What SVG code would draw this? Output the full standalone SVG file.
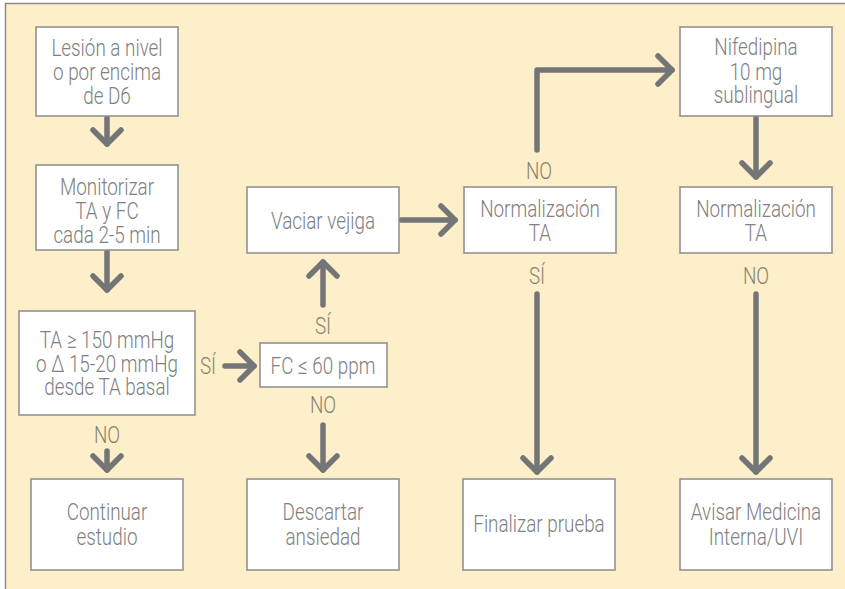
<svg xmlns="http://www.w3.org/2000/svg" width="845" height="589" viewBox="0 0 845 589">
<style>
.box{fill:#ffffff;stroke:#8c8c8c;stroke-width:1.5}
.t,.lbl{font-family:Roboto,"Liberation Sans",Arial,sans-serif;font-weight:300;font-size:23px;text-anchor:middle;transform-box:fill-box;transform-origin:center;transform:scaleX(0.82)}
.t{fill:#808080}
.lbl{fill:#85836f}
.c{fill:none;stroke:#747577;stroke-width:5.5;stroke-linecap:round;stroke-linejoin:round}
</style>
<defs>
<marker id="ah" markerUnits="userSpaceOnUse" viewBox="-20 -20 40 40" markerWidth="40" markerHeight="40" refX="0" refY="0" orient="auto" overflow="visible">
<path d="M-14,-14 L0,0 L-14,14" fill="none" stroke="#747577" stroke-width="5.5" stroke-linecap="round" stroke-linejoin="round"/>
</marker>
</defs>
<rect x="0" y="0" width="845" height="589" fill="#ffffff"/>
<rect x="5" y="3" width="840" height="586" fill="#fdefc9"/>
<path d="M5.5,589 V3.5 H845" fill="none" stroke="#8c8c8c" stroke-width="1.5"/>

<g id="connectors">
<path class="c" d="M107,118 V144" marker-end="url(#ah)"/>
<path class="c" d="M107,252 V290" marker-end="url(#ah)"/>
<path class="c" d="M225,366 H254" marker-end="url(#ah)"/>
<path class="c" d="M323,305 V262" marker-end="url(#ah)"/>
<path class="c" d="M323,425 V470" marker-end="url(#ah)"/>
<path class="c" d="M107,451 V470" marker-end="url(#ah)"/>
<path class="c" d="M401,220 H455" marker-end="url(#ah)"/>
<path class="c" d="M537,150 V70 H672" marker-end="url(#ah)"/>
<path class="c" d="M756,118 V177" marker-end="url(#ah)"/>
<path class="c" d="M537,294 V472" marker-end="url(#ah)"/>
<path class="c" d="M756,294 V472" marker-end="url(#ah)"/>
</g>

<g id="labels">
<text class="lbl" x="208" y="374">SÍ</text>
<text class="lbl" x="323" y="334">SÍ</text>
<text class="lbl" x="323" y="413">NO</text>
<text class="lbl" x="107" y="443">NO</text>
<text class="lbl" x="539" y="179">NO</text>
<text class="lbl" x="537" y="284">SÍ</text>
<text class="lbl" x="756" y="284">NO</text>
</g>

<g id="n1"><rect class="box" x="36" y="27" width="142" height="89"/>
<text class="t" x="107" y="56">Lesión a nivel<tspan x="107" dy="24">o por encima</tspan><tspan x="107" dy="24">de D6</tspan></text></g>
<g id="n2"><rect class="box" x="36" y="165" width="142" height="85"/>
<text class="t" x="107" y="195">Monitorizar<tspan x="107" dy="24">TA y FC</tspan><tspan x="107" dy="24">cada 2-5 min</tspan></text></g>
<g id="n3"><rect class="box" x="19" y="311" width="176" height="104"/>
<text class="t" x="107" y="348">TA ≥ 150 mmHg<tspan x="107" dy="24">o Δ 15-20 mmHg</tspan><tspan x="107" dy="23">desde TA basal</tspan></text></g>
<g id="n4"><rect class="box" x="260" y="343" width="127" height="44"/>
<text class="t" x="323" y="374">FC ≤ 60 ppm</text></g>
<g id="n5"><rect class="box" x="247" y="187" width="152" height="66"/>
<text class="t" x="323" y="229">Vaciar vejiga</text></g>
<g id="n6"><rect class="box" x="464" y="187" width="152" height="66"/>
<text class="t" x="540" y="217">Normalización<tspan x="540" dy="24">TA</tspan></text></g>
<g id="n7"><rect class="box" x="680" y="27" width="152" height="89"/>
<text class="t" x="756" y="55">Nifedipina<tspan x="756" dy="25">10 mg</tspan><tspan x="756" dy="23">sublingual</tspan></text></g>
<g id="n8"><rect class="box" x="680" y="187" width="152" height="66"/>
<text class="t" x="756" y="217">Normalización<tspan x="756" dy="24">TA</tspan></text></g>
<g id="n9"><rect class="box" x="31" y="479" width="152" height="91"/>
<text class="t" x="107" y="520">Continuar<tspan x="107" dy="25">estudio</tspan></text></g>
<g id="n10"><rect class="box" x="247" y="479" width="152" height="91"/>
<text class="t" x="323" y="520">Descartar<tspan x="323" dy="25">ansiedad</tspan></text></g>
<g id="n11"><rect class="box" x="463" y="479" width="152" height="91"/>
<text class="t" x="539" y="532">Finalizar prueba</text></g>
<g id="n12"><rect class="box" x="680" y="479" width="152" height="91"/>
<text class="t" x="756" y="520">Avisar Medicina<tspan x="756" dy="25">Interna/UVI</tspan></text></g>
</svg>
